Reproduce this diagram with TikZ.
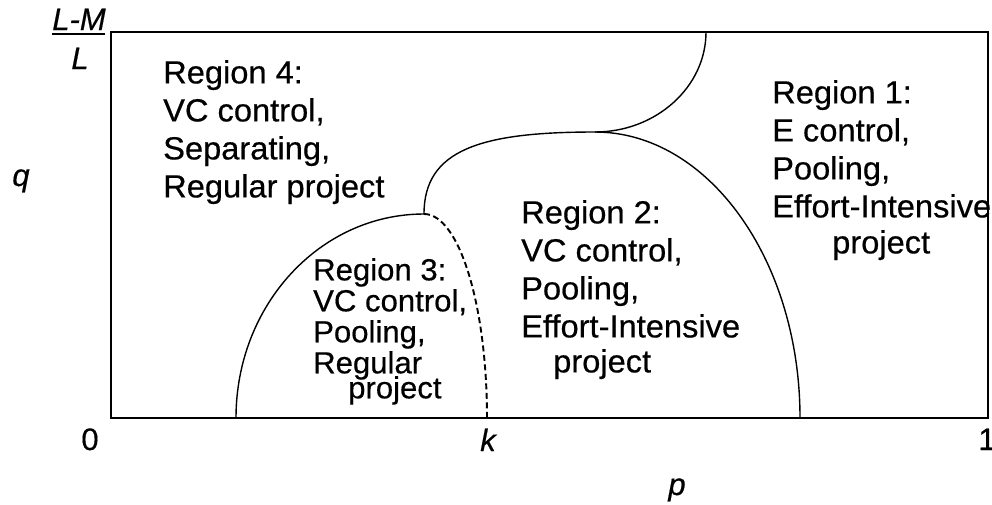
\documentclass[tikz,border=0pt]{standalone}
\usepackage{fontspec}
\setmainfont{Liberation Sans}[FakeBold=0.5]
\newfontfamily\regfont{Liberation Sans}[FakeStretch=1.02,FakeBold=0.5]
\begin{document}
\begin{tikzpicture}[x=1pt,y=-1pt,
  frame/.style={line width=1.7pt},
  bound/.style={line width=1.4pt},
  dashbound/.style={line width=1.9pt, dash pattern=on 6pt off 3.5pt},
  regiontext/.style={anchor=north west, inner sep=0pt, align=left,
    font=\regfont\fontsize{32}{38}\selectfont},
  axislabel/.style={anchor=base, inner sep=0pt, font=\fontsize{31}{36}\selectfont},
  varlabel/.style={anchor=base, inner sep=0pt, font=\fontsize{31}{36}\selectfont\itshape}]
\useasboundingbox (0,0) rectangle (992,504);
\fill[white] (0,0) rectangle (992,504);
% frame
\coordinate (BL) at (111,418);
\coordinate (TR) at (988,32);
\draw[frame] (BL) rectangle (TR);
% boundary points
\coordinate (A) at (236,418);
\coordinate (T3) at (424,214);
\coordinate (K) at (487,418);
\coordinate (J) at (595,132);
\coordinate (B) at (800,418);
\coordinate (TopP) at (706,32);
% region 3 solid boundary
\draw[bound] (A) .. controls (236,305) and (320,214) .. (T3);
% dashed boundary
\draw[dashbound] (T3) .. controls (459,214) and (487,305) .. (K);
% region 2 boundary
\draw[bound] (T3) .. controls (424,150) and (480,132) .. (J)
  .. controls (708,132) and (800,260) .. (B);
% top boundary
\draw[bound] (J) .. controls (656,132) and (706,87) .. (TopP);
% region texts
\node[regiontext] (r4) at (163,60) {Region 4:\\VC control,\\Separating,\\Regular project};
\node[regiontext] (r1) at (772,80) {Region 1:\\E control,\\Pooling,\\Effort-Intensive\\[-2pt]\hspace*{60pt}project};
\node[regiontext] (r2) at (521,200) {Region 2:\\VC control,\\Pooling,\\Effort-Intensive\\[-3pt]\hspace*{32pt}project};
\node[regiontext, font=\regfont\fontsize{30.5}{31}\selectfont] (r3) at (313,258) {Region 3:\\VC control,\\Pooling,\\Regular\\[-6pt]\hspace*{35pt}project};
% axis labels
\node[axislabel] (zero) at (90,450) {0};
\node[axislabel] (one) at (987,450) {1};
\node[varlabel] (k) at (488,451) {k};
\node[varlabel] (p) at (677,495) {p};
\node[varlabel] (q) at (21,186) {q};
\node[varlabel] (LM) at (79,30) {L-M};
\node[varlabel] (L) at (80,69) {L};
\draw[line width=1.7pt] (52,34) -- (105,34);
\end{tikzpicture}
\end{document}
